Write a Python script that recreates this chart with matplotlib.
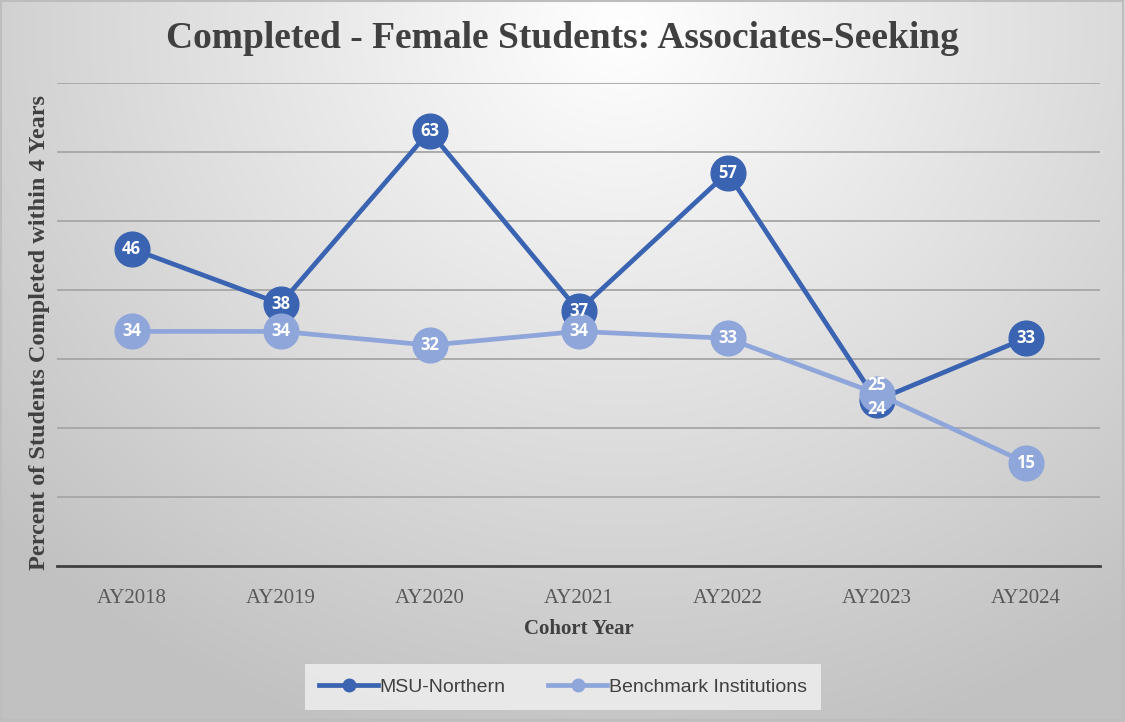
import numpy as np
import matplotlib.pyplot as plt

# data
years = ["AY2018", "AY2019", "AY2020", "AY2021", "AY2022", "AY2023", "AY2024"]
msu = [46, 38, 63, 37, 57, 24, 33]
bench = [34, 34, 32, 34, 33, 25, 15]

msu_color = "#3A63B1"
bench_color = "#8FA6DA"

W, H = 1125, 722
fig = plt.figure(figsize=(W / 100, H / 100), dpi=100)

# radial background gradient
bg = fig.add_axes([0, 0, 1, 1])
yy, xx = np.mgrid[0:H, 0:W]
d = np.sqrt(((xx - 620) / 900.0) ** 2 + ((yy - 30) / 800.0) ** 2)
shade = np.clip(1.0 - 0.26 * d, 0.76, 1.0)
bg.imshow(np.dstack([shade] * 3), extent=[0, W, H, 0], aspect="auto")
bg.add_patch(plt.Rectangle((1, 1), W - 3, H - 3, fill=False, ec="#bdbdbd", lw=1.5))
bg.set_xlim(0, W)
bg.set_ylim(H, 0)
bg.axis("off")

ax = fig.add_axes([57 / W, 156 / H, (1100 - 57) / W, (639 - 156) / H])
ax.patch.set_alpha(0)
x = np.arange(len(years))

ax.plot(x, msu, color=msu_color, lw=3.4, marker="o", ms=25,
        mec=msu_color, mfc=msu_color, label="MSU-Northern", zorder=3)
ax.plot(x, bench, color=bench_color, lw=3.4, marker="o", ms=25,
        mec=bench_color, mfc=bench_color, label="Benchmark Institutions", zorder=4)

lab = dict(color="white", fontsize=12, fontweight="bold", ha="center",
           va="center", family="Open Sans", zorder=6)
for i, v in enumerate(msu):
    dy = -1.3 if abs(v - bench[i]) < 3 else 0
    ax.text(i, v + dy, str(v), **lab)
for i, v in enumerate(bench):
    dy = 1.3 if abs(v - msu[i]) < 3 else 0
    ax.text(i, v + dy, str(v), **lab)

ax.set_xlim(-0.5, len(years) - 0.5)
ax.set_ylim(0, 70)
ax.set_yticks(np.arange(0, 71, 10))
ax.yaxis.grid(True, color="#a6a6a6", lw=1.3)
ax.set_axisbelow(True)
ax.tick_params(axis="y", left=False, labelleft=False)
ax.tick_params(axis="x", bottom=False, pad=13)
for s in ["top", "right", "left"]:
    ax.spines[s].set_visible(False)
ax.spines["bottom"].set_color("#404040")
ax.spines["bottom"].set_linewidth(2)

ax.set_xticks(x)
ax.set_xticklabels(years, family="Liberation Serif", fontsize=15, color="#595959")
ax.set_xlabel("Cohort Year", family="Liberation Serif", fontsize=15,
              fontweight="bold", color="#404040", labelpad=8)
ax.set_ylabel("Percent of Students Completed within 4 Years", family="Liberation Serif",
              fontsize=17.5, fontweight="bold", color="#404040")
ax.yaxis.set_label_coords(-0.007, 0.484)

fig.text(0.5, 1 - 39 / H, "Completed - Female Students: Associates-Seeking",
         family="Liberation Serif", fontsize=27, fontweight="bold",
         color="#404040", ha="center", va="center")

leg = ax.legend(loc="center", bbox_to_anchor=(563 / W, 1 - 687 / H),
                bbox_transform=fig.transFigure, ncol=2, frameon=True,
                fancybox=False, edgecolor="none", facecolor="#ececec",
                framealpha=0.9, prop={"family": "Liberation Sans", "size": 14},
                markerscale=0.36, handlelength=3.0, columnspacing=2.2,
                borderpad=0.5, borderaxespad=0, handletextpad=0.1)
for t in leg.get_texts():
    t.set_color("#404040")
leg.get_frame().set_boxstyle("square", pad=0.25)

fig.savefig("out.png", dpi=100)
